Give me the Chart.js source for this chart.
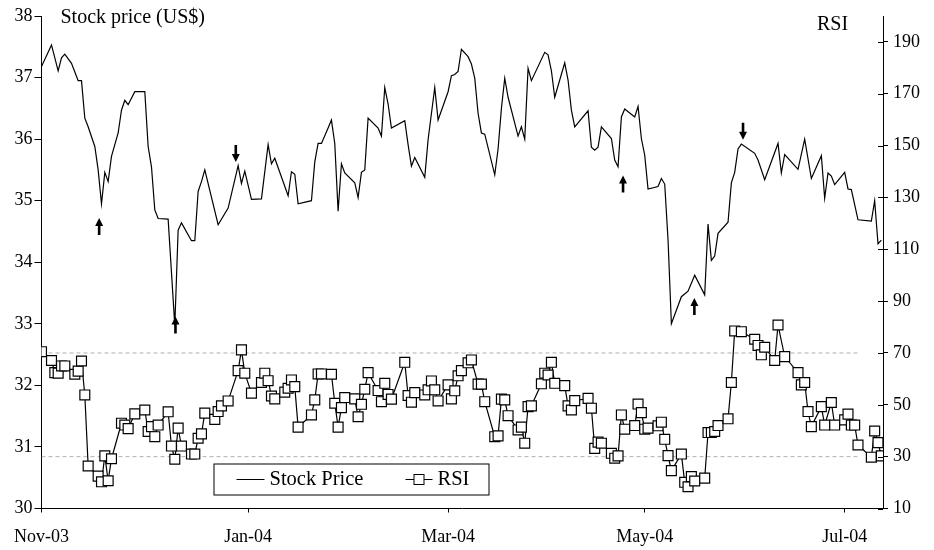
<!DOCTYPE html>
<html>
<head>
<meta charset="utf-8">
<script src="https://cdn.jsdelivr.net/npm/chart.js@4.4.1/dist/chart.umd.min.js"></script>
<style>
  html, body { margin: 0; padding: 0; background: #fff; }
  #wrap { width: 934px; height: 550px; }
</style>
</head>
<body>
<div id="wrap"><canvas id="myChart" width="934" height="550"></canvas></div>
<script>
// x values are calendar days counted from 3 Nov 2003
var priceDays = [0,3,5,6,7,9,10,11,12,13,14,16,17,18,19,20,21,23,24,25,26,28,31,32,33,34,35,38,40,41,42,45,46,47,48,49,53,56,59,60,61,63,66,68,69,70,74,75,76,77,81,82,83,84,86,87,88,89,90,91,94,95,96,97,98,101,102,103,104,105,109,110,111,112,115,116,118,119,122,123,124,125,126,128,129,130,131,132,133,136,137,138,139,140,143,144,145,146,147,151,152,153,154,157,158,159,160,164,165,166,167,168,171,172,173,174,175,178,179,180,181,182,185,186,187,188,189,192,194,196,199,200,201,202,203,206,207,208,209,210,214,215,217,221,222,223,227,229,231,234,235,236,237,238,241,242,243,245,249,250,251,252];
var prices = [37.18,37.53,37.11,37.32,37.38,37.23,37.09,36.95,36.95,36.34,36.20,35.88,35.50,34.95,35.46,35.31,35.72,36.10,36.47,36.63,36.56,36.77,36.77,35.88,35.55,34.85,34.71,34.70,32.97,34.52,34.64,34.35,34.35,35.15,35.31,35.50,34.61,34.88,35.57,35.28,35.48,35.02,35.03,35.91,35.60,35.69,35.08,35.47,35.43,34.95,35.00,35.63,35.93,35.93,36.18,36.31,35.93,34.83,35.60,35.45,35.29,35.05,35.46,35.50,36.34,36.18,36.05,36.84,36.57,36.18,36.30,35.91,35.56,35.70,35.38,35.99,36.84,36.31,36.77,37.03,37.05,37.10,37.46,37.34,37.22,36.99,36.42,36.10,36.08,35.42,35.84,36.50,36.99,36.68,36.05,36.20,36.00,37.15,36.95,37.41,37.37,37.11,36.68,37.24,36.96,36.47,36.20,36.46,35.87,35.82,35.87,36.20,36.01,35.66,35.55,36.36,36.49,36.36,36.53,36.01,35.74,35.19,35.23,35.36,35.27,34.36,33.00,33.44,33.53,33.79,33.47,34.62,34.03,34.10,34.47,34.65,35.29,35.46,35.84,35.92,35.77,35.66,35.34,35.93,35.45,35.75,35.51,36.00,35.36,35.73,35.04,35.45,35.40,35.26,35.46,35.19,35.18,34.69,34.67,35.00,34.30,34.36];

var rsiDays = [0,3,4,5,6,7,10,11,12,13,14,17,18,19,20,21,24,25,26,28,31,32,33,34,35,38,39,40,41,42,45,46,47,48,49,52,53,54,56,59,60,61,63,66,67,68,69,70,73,74,75,76,77,81,82,83,84,87,88,89,90,91,94,95,96,97,98,101,102,103,104,105,109,110,111,112,115,116,117,118,119,122,123,124,125,126,128,129,131,132,133,136,137,138,139,140,143,144,145,146,147,150,151,152,153,154,157,158,159,160,164,165,166,167,168,171,172,173,174,175,178,179,180,181,182,185,186,187,188,189,192,193,194,195,196,199,200,201,202,203,206,207,208,210,214,215,216,217,220,221,223,227,228,229,230,231,234,235,237,238,241,242,243,244,245,249,250,251,252];
var rsiValues = [70.5,67.1,62.4,62.2,65.0,65.0,61.8,63.0,66.9,53.8,26.4,22.5,20.3,30.3,20.7,29.2,42.9,42.2,40.8,46.5,48.0,39.7,41.6,37.7,42.2,47.3,34.1,29.0,41.0,34.1,31.0,31.0,37.1,38.8,46.8,44.4,47.4,49.6,51.5,63.2,71.2,62.2,54.5,58.6,62.2,59.3,53.4,52.3,54.9,56.4,59.6,57.0,41.4,46.1,51.9,61.9,61.9,61.8,50.6,41.4,48.9,52.8,52.3,45.4,50.2,56.0,62.4,55.5,51.2,58.3,54.0,52.2,66.4,53.6,51.0,54.7,53.8,55.8,59.2,55.8,51.5,57.7,52.3,55.4,61.2,63.2,66.2,67.3,58.0,58.0,51.2,37.7,38.0,52.2,51.9,45.8,40.3,41.4,35.2,49.3,49.6,58.1,62.2,61.5,66.4,58.3,57.4,49.6,48.0,51.6,52.5,48.7,33.2,35.6,35.2,31.3,29.4,30.3,46.1,40.6,42.0,50.3,47.0,40.6,41.0,41.9,43.3,36.7,30.4,24.6,31.0,20.1,18.4,22.3,20.6,21.7,39.3,39.3,39.7,42.0,44.6,58.6,78.5,78.2,75.3,72.9,69.3,72.2,67.1,80.8,68.6,62.4,57.7,58.6,47.4,41.6,49.3,42.2,50.9,42.2,44.2,46.4,42.2,42.2,34.5,29.8,39.9,35.4,30.3];

// overbought / oversold reference lines
var bandDays = [0, 245];
var overbought = [70, 70];
var oversold = [30, 30];

var tickDays = [0, 62, 122, 181, 241];
var tickLabels = ["Nov-03", "Jan-04", "Mar-04", "May-04", "Jul-04"];
var rsiTicks = [10, 30, 50, 70, 90, 110, 130, 150, 170, 190];

// buy / sell signal arrows (day, price at arrow tip)
var arrowDays = [17.3, 40.2, 174.5, 195.9, 58.3, 210.5];
var arrowTips = [34.72, 33.12, 35.41, 33.42, 35.63, 35.99];
var arrowDirs = ["up", "up", "up", "up", "down", "down"];

function pts(xs, ys) {
  return xs.map(function (x, i) { return { x: x, y: ys[i] }; });
}

var FONT = "Liberation Serif";

var extras = {
  id: "extras",
  afterDraw: function (chart) {
    var ctx = chart.ctx;
    var xs = chart.scales.x, ys = chart.scales.y, rs = chart.scales.y2;
    var area = chart.chartArea;
    ctx.save();

    // inner half of the right axis ticks
    ctx.strokeStyle = "#000";
    ctx.lineWidth = 1;
    rs.ticks.forEach(function (t) {
      var py = Math.round(rs.getPixelForValue(t.value)) + 0.5;
      ctx.beginPath();
      ctx.moveTo(area.right - 5, py);
      ctx.lineTo(area.right, py);
      ctx.stroke();
    });

    // arrows
    ctx.fillStyle = "#000";
    arrowDays.forEach(function (d, i) {
      var px = xs.getPixelForValue(d);
      var tip = ys.getPixelForValue(arrowTips[i]);
      var s = arrowDirs[i] == "up" ? 1 : -1;
      ctx.beginPath();
      ctx.moveTo(px, tip);
      ctx.lineTo(px + 4, tip + s * 8);
      ctx.lineTo(px + 1.3, tip + s * 8);
      ctx.lineTo(px + 1.3, tip + s * 17);
      ctx.lineTo(px - 1.3, tip + s * 17);
      ctx.lineTo(px - 1.3, tip + s * 8);
      ctx.lineTo(px - 4, tip + s * 8);
      ctx.closePath();
      ctx.fill();
    });

    // axis titles
    ctx.font = "20px " + FONT;
    ctx.textBaseline = "middle";
    ctx.textAlign = "left";
    ctx.fillText("Stock price (US$)", area.left + 19, 18);
    ctx.fillText("RSI", area.right - 66, 25);

    // legend box
    var lx = area.left + 172, ly = area.bottom - 45, lw = 275, lh = 31;
    ctx.fillStyle = "#fff";
    ctx.fillRect(lx, ly, lw, lh);
    ctx.strokeStyle = "#000";
    ctx.strokeRect(lx + 0.5, ly + 0.5, lw, lh);
    var my = ly + lh / 2 + 0.5;
    ctx.beginPath();
    ctx.moveTo(lx + 23, my);
    ctx.lineTo(lx + 51, my);
    ctx.moveTo(lx + 192, my);
    ctx.lineTo(lx + 219, my);
    ctx.stroke();
    ctx.fillStyle = "#fff";
    ctx.fillRect(lx + 200.5, my - 5, 10, 10);
    ctx.strokeRect(lx + 200.5, my - 5, 10, 10);
    ctx.fillStyle = "#000";
    ctx.font = "20.5px " + FONT;
    ctx.fillText("Stock Price", lx + 56, my);
    ctx.fillText("RSI", lx + 224, my);
    ctx.restore();
  }
};

var ctx = document.getElementById("myChart");
var myChart = new Chart(ctx, {
  type: "line",
  data: {
    datasets: [
      {
        label: "Stock Price",
        data: pts(priceDays, prices),
        yAxisID: "y",
        borderColor: "#000",
        borderWidth: 1.2,
        pointRadius: 0,
        tension: 0
      },
      {
        label: "RSI",
        data: pts(rsiDays, rsiValues),
        yAxisID: "y2",
        borderColor: "#000",
        borderWidth: 1.2,
        pointStyle: "rect",
        pointRadius: 7,
        pointBackgroundColor: "#fff",
        pointBorderColor: "#000",
        pointBorderWidth: 1.2,
        tension: 0
      },
      {
        label: "70",
        data: pts(bandDays, overbought),
        yAxisID: "y2",
        borderColor: "#b0b0b0",
        borderWidth: 1,
        borderDash: [4, 3],
        pointRadius: 0
      },
      {
        label: "30",
        data: pts(bandDays, oversold),
        yAxisID: "y2",
        borderColor: "#b0b0b0",
        borderWidth: 1,
        borderDash: [4, 3],
        pointRadius: 0
      }
    ]
  },
  options: {
    responsive: false,
    animation: false,
    devicePixelRatio: 1,
    layout: { padding: { top: 16, left: 0, right: 0, bottom: 0 } },
    plugins: {
      legend: { display: false },
      tooltip: { enabled: false }
    },
    scales: {
      x: {
        type: "linear",
        min: 0,
        max: 252.5,
        afterBuildTicks: function (scale) {
          scale.ticks = tickDays.map(function (d) { return { value: d }; });
        },
        afterFit: function (scale) { scale.height = 41.5; },
        ticks: {
          autoSkip: false,
          maxRotation: 0,
          padding: 14,
          color: "#000",
          font: { family: FONT, size: 18 },
          callback: function (v, i) { return tickLabels[i]; }
        },
        grid: { drawOnChartArea: false, tickLength: 4, color: "#000" },
        border: { color: "#000", width: 1 }
      },
      y: {
        position: "left",
        min: 30,
        max: 38,
        afterFit: function (scale) { scale.width = 37; },
        ticks: {
          stepSize: 1,
          padding: 2,
          color: "#000",
          font: { family: FONT, size: 18 }
        },
        grid: { drawOnChartArea: false, tickLength: 7, color: "#000" },
        border: { color: "#000", width: 1 }
      },
      y2: {
        position: "right",
        min: 10,
        max: 200,
        afterBuildTicks: function (scale) {
          scale.ticks = rsiTicks.map(function (v) { return { value: v }; });
        },
        afterFit: function (scale) { scale.width = 51; },
        ticks: {
          padding: 5,
          color: "#000",
          font: { family: FONT, size: 18 }
        },
        grid: { drawOnChartArea: false, tickLength: 5, color: "#000" },
        border: { color: "#000", width: 1 }
      }
    }
  },
  plugins: [extras]
});
</script>
</body>
</html>
